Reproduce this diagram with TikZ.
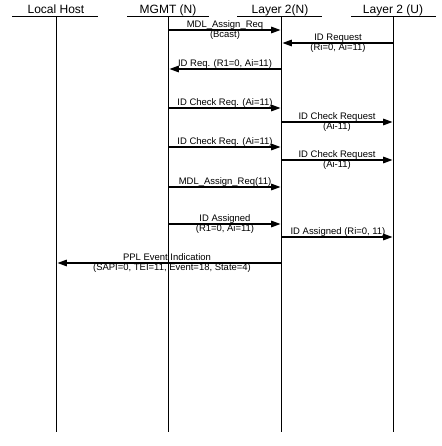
\documentclass[tikz,border=0pt]{standalone}
\usepackage{fontspec}
\setmainfont{Liberation Sans}
\usetikzlibrary{arrows.meta}
\begin{document}
\begin{tikzpicture}[x=0.75pt,y=-0.75pt,
  lifeline/.style={line width=0.9pt},
  headline/.style={line width=0.8pt},
  headtext/.style={font=\fontsize{9}{10}\selectfont, anchor=base, inner sep=0pt},
  msg/.style={line width=0.8pt, -{Triangle[length=7pt,width=5pt]}, shorten >=0.8pt},
  lblabove/.style={font=\fontsize{7.1}{8}\selectfont, anchor=base, inner sep=0pt},
  lblbelow/.style={font=\fontsize{7.1}{8}\selectfont, anchor=north, inner sep=0pt}]
\useasboundingbox (0,0) rectangle (442,446);
% headers
\node[headtext] (hLH) at (56,13) {Local Host};
\node[headtext] (hMG) at (168,13) {MGMT (N)};
\node[headtext] (hLN) at (280,13) {Layer 2(N)};
\node[headtext] (hLU) at (393,13) {Layer 2 (U)};
\draw[headline] (12,16.5) -- (98,16.5);
\draw[headline] (127,16.5) -- (209,16.5);
\draw[headline] (237,16.5) -- (322,16.5);
\draw[headline] (351,16.5) -- (436,16.5);
% lifelines
\coordinate (lhT) at (56.5,16.5); \coordinate (lhB) at (56.5,432);
\coordinate (mgT) at (168.5,16.5); \coordinate (mgB) at (168.5,432);
\coordinate (lnT) at (281.5,16.5); \coordinate (lnB) at (281.5,432);
\coordinate (luT) at (393.5,16.5); \coordinate (luB) at (393.5,432);
\draw[lifeline] (lhT) -- (lhB);
\draw[lifeline] (mgT) -- (mgB);
\draw[lifeline] (lnT) -- (lnB);
\draw[lifeline] (luT) -- (luB);
% message end points
\foreach \n/\y in {1/30,2/43,3/69,4/108,5/122,6/147,7/160,8/187,9/224,10/237,11/263}{
  \coordinate (lh\n) at (lhT |- 0,\y);
  \coordinate (mg\n) at (mgT |- 0,\y);
  \coordinate (ln\n) at (lnT |- 0,\y);
  \coordinate (lu\n) at (luT |- 0,\y);
}
% messages
\draw[msg] (mg1) -- (ln1);
\node[lblabove] (t1a) at (225,27) {MDL\_Assign\_Req};
\node[lblbelow] (t1b) at (225,30.5) {(Bcast)};
\draw[msg] (lu2) -- (ln2);
\node[lblabove] (t2a) at (338,40) {ID Request};
\node[lblbelow] (t2b) at (338,43.5) {(Ri=0, Ai=11)};
\draw[msg] (ln3) -- (mg3);
\node[lblabove] (t3a) at (225,66) {ID Req. (R1=0, Ai=11)};
\draw[msg] (mg4) -- (ln4);
\node[lblabove] (t4a) at (225,105) {ID Check Req. (Ai=11)};
\draw[msg] (ln5) -- (lu5);
\node[lblabove] (t5a) at (337,119) {ID Check Request};
\node[lblbelow] (t5b) at (337,122.5) {(Ai-11)};
\draw[msg] (mg6) -- (ln6);
\node[lblabove] (t6a) at (225,144) {ID Check Req. (Ai=11)};
\draw[msg] (ln7) -- (lu7);
\node[lblabove] (t7a) at (337,157) {ID Check Request};
\node[lblbelow] (t7b) at (337,160.5) {(Ai-11)};
\draw[msg] (mg8) -- (ln8);
\node[lblabove] (t8a) at (225,184) {MDL\_Assign\_Req(11)};
\draw[msg] (mg9) -- (ln9);
\node[lblabove] (t9a) at (225,221) {ID Assigned};
\node[lblbelow] (t9b) at (225,224.5) {(R1=0, Ai=11)};
\draw[msg] (ln10) -- (lu10);
\node[lblabove] (t10a) at (338,234) {ID Assigned (Ri=0, 11)};
\draw[msg] (ln11) -- (lh11);
\node[lblabove] (t11a) at (167,260) {PPL Event Indication};
\node[lblbelow] (t11b) at (172,263.5) {(SAPI=0, TEI=11, Event=18, State=4)};
\end{tikzpicture}
\end{document}
